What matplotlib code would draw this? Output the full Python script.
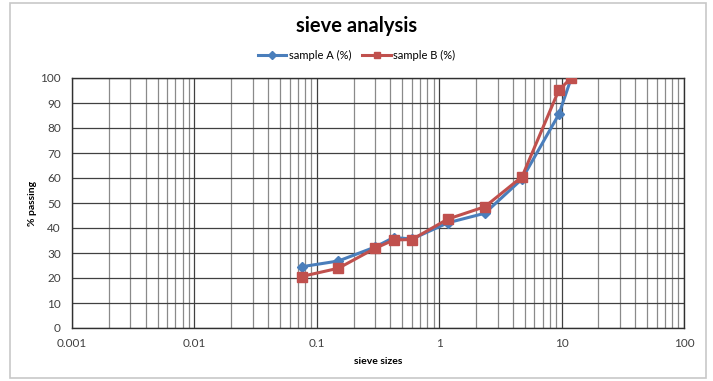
import numpy as np
import matplotlib
matplotlib.use("Agg")
import matplotlib.pyplot as plt
from matplotlib.patches import Rectangle
from matplotlib.ticker import LogLocator, FixedLocator, FixedFormatter, NullFormatter

plt.rcParams['font.family'] = ['Lato', 'DejaVu Sans']

# sieve sizes (mm) and % passing
sieve_sizes = [0.075, 0.15, 0.3, 0.425, 0.6, 1.18, 2.36, 4.75, 9.5, 12]
sample_a = [24.5, 26.8, 32.4, 36.2, 35.6, 42.1, 45.9, 59.6, 85.5, 100]
sample_b = [20.6, 23.9, 31.9, 35.2, 35.4, 43.6, 48.5, 60.5, 95.2, 100]

x_ticks = [0.001, 0.01, 0.1, 1, 10, 100]
x_tick_labels = ['0.001', '0.01', '0.1', '1', '10', '100']
y_ticks = list(range(0, 101, 10))

fig = plt.figure(figsize=(7.13, 3.81), dpi=100)
ax = fig.add_axes([72 / 713, 53 / 381, 612 / 713, 250 / 381])

# outer chart frame
fig.patches.append(Rectangle((10 / 713, 3 / 381), 696 / 713, 375 / 381,
                             transform=fig.transFigure, fill=False,
                             edgecolor='#c8c8c8', linewidth=1.2))

ax.plot(sieve_sizes, sample_a, color='#4a7ebb', linewidth=2.2, marker='D',
        markersize=5.5, label='sample A (%)', zorder=3)
ax.plot(sieve_sizes, sample_b, color='#c0504d', linewidth=2.2, marker='s',
        markersize=7, label='sample B (%)', zorder=4)

ax.set_xscale('log')
ax.set_xlim(0.001, 100)
ax.set_ylim(0, 100)
ax.xaxis.set_major_locator(FixedLocator(x_ticks))
ax.xaxis.set_major_formatter(FixedFormatter(x_tick_labels))
ax.xaxis.set_minor_locator(LogLocator(base=10, subs=np.arange(2, 10), numticks=20))
ax.xaxis.set_minor_formatter(NullFormatter())
ax.set_yticks(y_ticks)

ax.grid(which='major', axis='both', color='#404040', linewidth=0.9)
ax.grid(which='minor', axis='x', color='#8a8a8a', linewidth=0.9)
ax.set_axisbelow(True)

ax.tick_params(which='both', length=0, labelsize=8.5, colors='#404040')
ax.tick_params(axis='x', pad=7)
ax.tick_params(axis='y', pad=8)
for s in ax.spines.values():
    s.set_color('#303030')
    s.set_linewidth(1.0)

ax.set_xlabel('sieve sizes', fontsize=7.5, fontweight='bold', labelpad=6)
ax.set_ylabel('% passing', fontsize=7.5, fontweight='bold', labelpad=2)

fig.text(0.5, 1 - 26 / 381, 'sieve analysis', ha='center', va='center',
         fontsize=14.5, fontweight='bold')
fig.legend(loc='center', bbox_to_anchor=(0.5, 1 - 55 / 381), ncol=2,
           frameon=False, fontsize=8, handlelength=2.6, columnspacing=1.0,
           handletextpad=0.2, markerscale=0.7)

fig.savefig('out.png', dpi=100)
